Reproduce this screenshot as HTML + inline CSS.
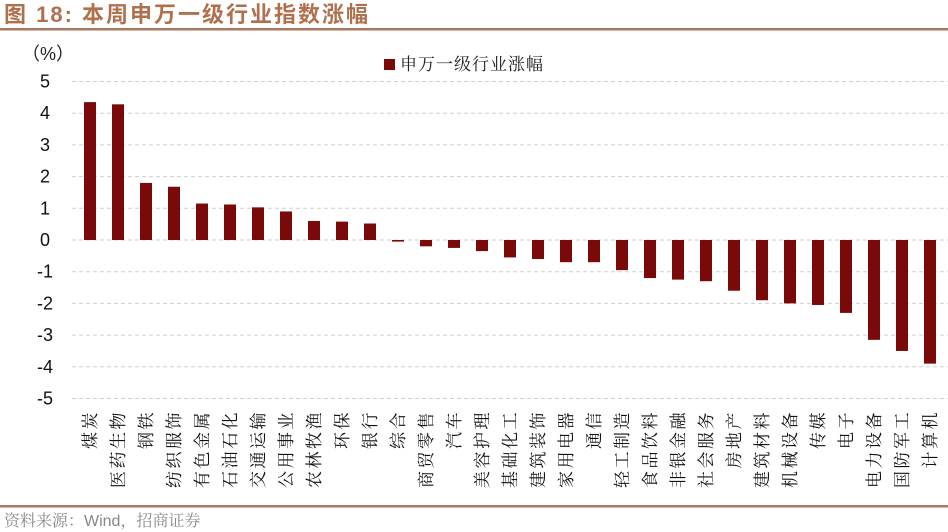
<!DOCTYPE html>
<html><head><meta charset="utf-8"><style>
html,body{margin:0;padding:0;background:#fff;}
svg{display:block;}
</style></head><body>
<svg width="948" height="532" xmlns="http://www.w3.org/2000/svg">
<text x="4" y="22" font-family="'Liberation Sans','Noto Sans CJK SC',sans-serif" font-size="22" font-weight="bold" fill="#b0704e" letter-spacing="2">图 18:  本周申万一级行业指数涨幅</text>
<rect x="0" y="28" width="948" height="2.5" fill="#a87860"/>
<rect x="0" y="505" width="948" height="2.5" fill="#a87860"/>
<text x="4" y="526" font-family="'Liberation Sans','Noto Serif CJK SC',serif" font-size="16" fill="#888">资料来源：Wind，招商证券</text>
<text x="22" y="60" font-family="'Liberation Sans','Noto Sans CJK SC',sans-serif" font-size="18" fill="#222">（%）</text>
<rect x="384" y="59" width="11" height="11" fill="#7a0a0a"/>
<text x="400" y="70" font-family="'Noto Serif CJK SC','Liberation Serif',serif" font-size="17" fill="#222" letter-spacing="1">申万一级行业涨幅</text>
<g id="grid" stroke="#cfcfcf" stroke-dasharray="4,3" stroke-width="1"></g>
<g id="ylab" font-family="'Liberation Sans',sans-serif" font-size="18" fill="#111" text-anchor="middle"></g>
<g id="bars" fill="#7a0a0a"></g>
<g id="xlab" font-family="'Noto Serif CJK SC','Liberation Serif',serif" font-size="17" fill="#111" text-anchor="end" letter-spacing="2.5"></g>
<script>
var ns="http://www.w3.org/2000/svg";
function el(t,a,p,txt){var e=document.createElementNS(ns,t);for(var k in a)e.setAttribute(k,a[k]);if(txt)e.textContent=txt;document.getElementById(p).appendChild(e);}
var y0=240,u=31.7;
for(var v=5;v>=-5;v--){var y=y0-v*u;
 if(v!=0)el('line',{x1:72,x2:948,y1:y,y2:y},'grid');
 el('text',{x:45,y:y+6},'ylab',String(v));}
el('line',{x1:72,x2:948,y1:y0,y2:y0,stroke:'#cfcfcf','stroke-width':1},'grid');
var d=[["煤炭",4.35],["医药生物",4.28],["钢铁",1.8],["纺织服饰",1.68],["有色金属",1.15],["石油石化",1.12],["交通运输",1.03],["公用事业",0.9],["农林牧渔",0.6],["环保",0.58],["银行",0.52],["综合",-0.05],["商贸零售",-0.2],["汽车",-0.25],["美容护理",-0.35],["基础化工",-0.55],["建筑装饰",-0.6],["家用电器",-0.7],["通信",-0.7],["轻工制造",-0.95],["食品饮料",-1.2],["非银金融",-1.25],["社会服务",-1.3],["房地产",-1.6],["建筑材料",-1.9],["机械设备",-2.0],["传媒",-2.05],["电子",-2.3],["电力设备",-3.15],["国防军工",-3.5],["计算机",-3.9]];
d.forEach(function(r,i){var cx=90+i*28,h=Math.abs(r[1])*u;
 el('rect',{x:cx-6,width:12,y:r[1]>0?y0-h:y0,height:Math.max(h,1)},'bars');
 el('text',{transform:'translate('+(cx+6)+',410) rotate(-90)'},'xlab',r[0]);});
</script>
</svg>
</body></html>
